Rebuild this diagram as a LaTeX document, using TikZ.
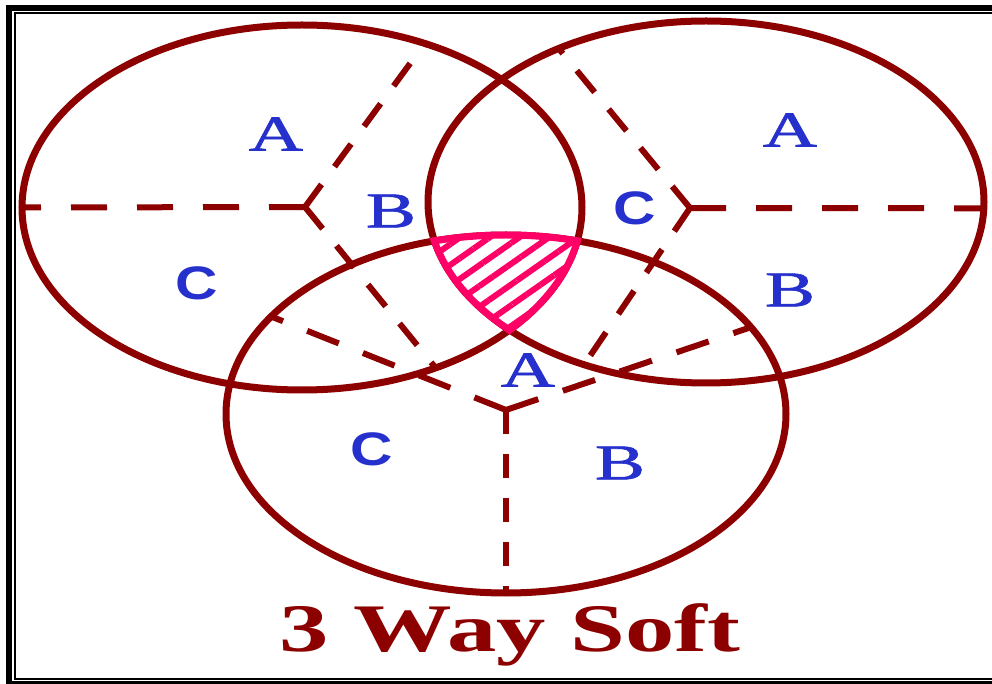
\documentclass[tikz,border=0pt]{standalone}
\usepackage{fontspec}
\setmainfont{Liberation Serif}
\setsansfont{Liberation Sans}
\newfontfamily\labelserif{Liberation Serif}[FakeBold=1.2]
\usepackage{xcolor}
\usepackage{tikz}
\usetikzlibrary{patterns.meta}

\definecolor{ringred}{RGB}{140,0,0}
\definecolor{labelblue}{RGB}{38,48,204}
\definecolor{hotpink}{RGB}{255,0,102}

\newcommand{\stretchx}[2][1.5]{\scalebox{#1}[1]{#2}}

\begin{document}
\begin{tikzpicture}[
    x=0.5pt, y=-0.5pt,
    ring/.style={draw=ringred, line width=3.5pt},
    spoke/.style={draw=ringred, line width=3pt},
    hspoke/.style={spoke, dash pattern=on 18pt off 15pt},
    vspoke/.style={spoke, dash pattern=on 12pt off 10pt},
    steepspoke/.style={spoke, dash pattern=on 14pt off 11pt},
    flatspoke/.style={spoke, dash pattern=on 17pt off 13pt},
    hotedge/.style={draw=hotpink, line width=3.5pt},
    hatch/.style={pattern={Lines[angle=35, distance=8.5pt, line width=3pt]}, pattern color=hotpink},
    lbl/.style={text=labelblue, inner sep=0pt, font=\fontsize{25}{30}\labelserif},
    lblsans/.style={lbl, font=\fontsize{23.5}{28}\selectfont\sffamily\bfseries}
]
    \useasboundingbox (0,0) rectangle (992,684);

    % frame (its right side is off the page)
    \draw[line width=3pt] (992,7.7) -- (9,7.7) -- (9,684) -- (992,684);
    \draw[line width=1.1pt] (992,12.9) -- (14.9,12.9) -- (14.9,678.7) -- (992,678.7);

    % the three circles
    \coordinate (cL) at (302,207.5);
    \coordinate (cR) at (706,202);
    \coordinate (cB) at (506,414);
    \draw[ring] (cL) ellipse [x radius=140pt, y radius=91.25pt];
    \draw[ring] (cR) ellipse [x radius=139pt, y radius=90.5pt];
    \draw[ring] (cB) ellipse [x radius=140pt, y radius=89.5pt];

    % spoke ends on each circle
    \coordinate (vL) at (305,207);
    \coordinate (vR) at (690,208);
    \coordinate (vB) at (506,410);
    \path (cL) ++(180:140pt and 91.25pt) coordinate (eL1)
          (cL) ++(64:140pt and 91.25pt) coordinate (eL2)
          (cL) ++(-61.5:140pt and 91.25pt) coordinate (eL3);
    \path (cR) ++(-2:139pt and 90.5pt) coordinate (eR1)
          (cR) ++(122:139pt and 90.5pt) coordinate (eR2)
          (cR) ++(244:139pt and 90.5pt) coordinate (eR3);
    \path (cB) ++(270:140pt and 89.5pt) coordinate (eB1)
          (cB) ++(147:140pt and 89.5pt) coordinate (eB2)
          (cB) ++(29:140pt and 89.5pt) coordinate (eB3);

    % dashed spokes
    \draw[hspoke] (vL) -- (eL1);
    \draw[steepspoke] (vL) -- (eL2);
    \draw[steepspoke] (vL) -- (eL3);
    \draw[hspoke] (vR) -- (eR1);
    \draw[steepspoke] (vR) -- (eR2);
    \draw[steepspoke] (vR) -- (eR3);
    \draw[vspoke] (vB) -- (eB1);
    \draw[flatspoke] (vB) -- (eB2);
    \draw[flatspoke] (vB) -- (eB3);

    % hatched common part
    \begin{scope}
        \clip (cL) ellipse [x radius=140pt, y radius=91.25pt];
        \clip (cR) ellipse [x radius=139pt, y radius=90.5pt];
        \fill[white] (cB) ellipse [x radius=140pt, y radius=89.5pt];
        \fill[hatch] (cB) ellipse [x radius=140pt, y radius=89.5pt];
    \end{scope}
    \begin{scope}
        \clip (cR) ellipse [x radius=140.75pt, y radius=92.25pt];
        \clip (cB) ellipse [x radius=141.75pt, y radius=91.25pt];
        \draw[hotedge] (cL) ellipse [x radius=140pt, y radius=91.25pt];
    \end{scope}
    \begin{scope}
        \clip (cL) ellipse [x radius=141.75pt, y radius=93pt];
        \clip (cB) ellipse [x radius=141.75pt, y radius=91.25pt];
        \draw[hotedge] (cR) ellipse [x radius=139pt, y radius=90.5pt];
    \end{scope}
    \begin{scope}
        \clip (cL) ellipse [x radius=141.75pt, y radius=93pt];
        \clip (cR) ellipse [x radius=140.75pt, y radius=92.25pt];
        \draw[hotedge] (cB) ellipse [x radius=140pt, y radius=89.5pt];
    \end{scope}

    % labels
    \node[lbl] (lA) at (276,134) {\stretchx{A}};
    \node[lbl] (lB) at (391,211) {\stretchx{B}};
    \node[lblsans] (lC) at (197,283) {\stretchx[1.25]{C}};
    \node[lbl] (rA) at (790,130) {\stretchx{A}};
    \node[lblsans] (rC) at (635,208) {\stretchx[1.25]{C}};
    \node[lbl] (rB) at (790,290) {\stretchx{B}};
    \node[lbl] (bA) at (528,370) {\stretchx{A}};
    \node[lblsans] (bC) at (372,449) {\stretchx[1.25]{C}};
    \node[lbl] (bB) at (620,463) {\stretchx{B}};

    % title
    \node[text=ringred, inner sep=0pt, anchor=base, font=\fontsize{34}{40}\selectfont\bfseries] (title) at (510,652) {\stretchx[1.45]{3 Way Soft}};
\end{tikzpicture}
\end{document}
